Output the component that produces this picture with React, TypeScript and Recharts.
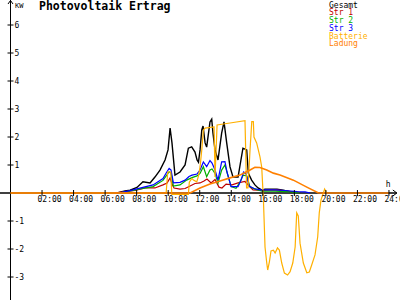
import React from 'react';
import { LineChart, Line, XAxis, YAxis, ReferenceLine, ReferenceDot, Legend } from 'recharts';

const FONT = '"DejaVu Sans Mono", "Liberation Mono", monospace';

const hourTicks = [2, 4, 6, 8, 10, 12, 14, 16, 18, 20, 22, 24];
const hourLabels = ['02:00', '04:00', '06:00', '08:00', '10:00', '12:00', '14:00', '16:00', '18:00', '20:00', '22:00', '24:00'];
const kwTicks = [-3, -2, -1, 1, 2, 3, 4, 5, 6];

const seriesNames = ['Gesamt', 'Str 1', 'Str 2', 'Str 3', 'Batterie', 'Ladung'];
const seriesColors = ['#000000', '#c00000', '#00b000', '#0000ff', '#ffb000', '#ff8000'];

const gesamt: [number, number][] = [
  [6.75, 0], [7.26, 0.07], [7.58, 0.1], [8.02, 0.2], [8.4, 0.4], [8.85, 0.36], [9.16, 0.57], [9.48, 0.82],
  [9.8, 1.18], [9.99, 1.54], [10.12, 2.32], [10.24, 1.79], [10.43, 0.64], [10.75, 0.75], [11.07, 1.0],
  [11.28, 1.6], [11.49, 1.65], [11.7, 1.46], [11.83, 1.18], [11.92, 1.1], [12.02, 1.54], [12.13, 2.25],
  [12.21, 2.39], [12.34, 1.79], [12.44, 1.64], [12.65, 2.54], [12.76, 2.64], [12.84, 2.14], [12.97, 1.54],
  [13.16, 1.18], [13.39, 2.14], [13.54, 2.54], [13.71, 1.79], [13.92, 0.93], [14.11, 0.57], [14.43, 0.57],
  [14.74, 1.6], [14.98, 1.54], [15.08, 0.71], [15.29, 0.46], [15.5, 0.29], [15.7, 0.18], [15.95, 0.1],
  [16.14, 0.14], [16.9, 0.14], [17.29, 0.1], [17.73, 0.05], [18.23, 0.02], [18.36, 0],
];

const str1: [number, number][] = [
  [6.63, 0], [7.26, 0.05], [7.9, 0.09], [8.53, 0.18], [9.16, 0.18], [9.67, 0.29], [9.93, 0.36], [10.12, 0.54],
  [10.24, 0.32], [10.37, 0.18], [10.75, 0.14], [11.07, 0.16], [11.39, 0.25], [11.7, 0.34], [12.02, 0.36],
  [12.27, 0.43], [12.46, 0.5], [12.72, 0.36], [12.97, 0.48], [13.22, 0.21], [13.41, 0.18], [13.67, 0.32],
  [14.05, 0.29], [14.43, 0.36], [14.87, 0.41], [15.13, 0.25], [15.38, 0.11], [16.01, 0.09], [16.9, 0.11],
  [17.73, 0.05], [18.23, 0.02], [18.36, 0],
];

const str2: [number, number][] = [
  [6.82, 0], [7.07, 0.02], [7.77, 0.09], [8.4, 0.16], [9.04, 0.23], [9.67, 0.45], [9.91, 0.64], [10.06, 0.76],
  [10.18, 0.71], [10.33, 0.25], [10.75, 0.29], [11.17, 0.46], [11.51, 0.55], [11.83, 0.61], [12.02, 0.7],
  [12.23, 0.94], [12.44, 0.58], [12.65, 0.82], [12.78, 0.86], [12.97, 0.7], [13.16, 0.35], [13.39, 0.82],
  [13.6, 1.0], [13.76, 0.68], [13.99, 0.23], [14.3, 0.17], [14.55, 0.39], [14.76, 0.64], [14.98, 0.61],
  [15.19, 0.22], [15.5, 0.14], [15.95, 0.07], [16.78, 0.07], [17.73, 0.04], [18.36, 0],
];

const str3: [number, number][] = [
  [6.82, 0], [7.07, 0.02], [7.77, 0.11], [8.4, 0.2], [9.04, 0.29], [9.67, 0.52], [9.91, 0.75], [10.06, 0.88],
  [10.18, 0.82], [10.33, 0.36], [10.75, 0.38], [11.07, 0.46], [11.32, 0.59], [11.51, 0.64], [11.83, 0.68],
  [12.02, 0.82], [12.23, 1.11], [12.44, 0.94], [12.65, 1.16], [12.78, 1.07], [12.97, 0.82], [13.16, 0.46],
  [13.39, 1.11], [13.6, 1.12], [13.73, 0.75], [13.99, 0.23], [14.43, 0.23], [14.62, 0.46], [14.78, 0.75],
  [14.94, 0.68], [15.13, 0.25], [15.44, 0.16], [15.82, 0.11], [16.78, 0.11], [17.41, 0.09], [18.17, 0.05],
  [18.68, 0.04], [19.0, 0],
];

const batterie: [number, number][] = [
  [0, 0], [9.87, 0], [9.97, 0.75], [10.16, 0.75], [10.23, -0.05], [11.28, -0.05], [11.34, 0.39], [11.5, 0.52],
  [11.6, 0.46], [11.81, 0.4], [11.92, 0.6], [12.02, 0.93], [12.13, 1.54], [12.23, 2.25], [12.34, 2.32],
  [12.91, 2.36], [12.97, 0.57], [13.1, 2.43], [13.92, 2.5], [14.87, 2.58], [14.97, 0.18], [15.06, 0.18],
  [15.19, 1.54], [15.3, 2.55], [15.4, 2.55], [15.44, 2.0], [15.61, 1.79], [15.82, 1.29], [15.93, 0.93],
  [16.04, -0.25], [16.14, -1.93], [16.25, -2.5], [16.31, -2.75], [16.42, -2.45], [16.52, -2.07], [16.67, -2.04],
  [16.78, -2.14], [16.93, -1.96], [17.05, -2.04], [17.2, -2.5], [17.37, -2.86], [17.57, -2.93], [17.73, -2.81],
  [17.9, -2.5], [18.05, -1.93], [18.15, -0.71], [18.25, -0.82], [18.36, -1.79], [18.57, -2.5], [18.79, -2.85],
  [18.95, -2.82], [19.1, -2.57], [19.31, -2.21], [19.48, -1.57], [19.58, -0.71], [19.69, -0.25], [19.84, 0],
  [19.92, 0.14], [20.05, 0],
];

const ladung: [number, number][] = [
  [0, 0], [11.39, 0], [12.02, 0.18], [12.65, 0.32], [13.29, 0.43], [13.92, 0.54], [14.55, 0.64], [14.93, 0.75],
  [15.19, 0.82], [15.5, 0.92], [15.82, 0.91], [16.25, 0.82], [16.67, 0.71], [17.09, 0.64], [17.94, 0.46],
  [18.79, 0.21], [19.5, 0.01], [19.7, 0], [24, 0],
];

const toRows = (pts: [number, number][]) => pts.map(([h, v]) => ({ h, v }));
const seriesData = [gesamt, str1, str2, str3, batterie, ladung].map(toRows);

const X_MAX = 24.7;
const Y_MIN = -3.821;
const Y_MAX = 6.893;

const LegendBox = () => (
  <div style={{ fontFamily: FONT, fontSize: 8, lineHeight: '7.8px', textAlign: 'left' }}>
    {seriesNames.map((n, i) => (
      <div key={n} style={{ color: seriesColors[i], height: 7.8, whiteSpace: 'pre' }}>{n}</div>
    ))}
  </div>
);

export default function App() {
  return (
    <div style={{ position: 'absolute', left: 0, top: 0, width: 400, height: 300, background: '#fff' }}>
      <LineChart width={400} height={300} margin={{ top: 0, right: 0, bottom: 0, left: 10.5 }}>
        <XAxis type="number" dataKey="h" domain={[0, X_MAX]} hide height={0} allowDuplicatedCategory={false} />
        <YAxis type="number" domain={[Y_MIN, Y_MAX]} hide width={0} />
        <ReferenceLine x={0} stroke="#000" strokeWidth={1} />
        <ReferenceLine
          segment={[{ x: -0.67, y: 0 }, { x: 24.5, y: 0 }]}
          stroke="#000"
          strokeWidth={1.5}
          ifOverflow="visible"
        />
        {seriesData.map((d, i) => (
          <Line
            key={seriesNames[i]}
            data={d}
            dataKey="v"
            name={seriesNames[i]}
            type="linear"
            stroke={seriesColors[i]}
            strokeWidth={i === 5 ? 1.6 : i === 0 ? 1.4 : 1.2}
            dot={false}
            activeDot={false}
            isAnimationActive={false}
          />
        ))}
        {kwTicks.map((k) => (
          <ReferenceDot
            key={'y' + k}
            x={0}
            y={k}
            ifOverflow="visible"
            shape={(p: any) => (
              <g>
                <line x1={p.cx - 3} x2={p.cx + 3} y1={p.cy} y2={p.cy} stroke="#000" strokeWidth={1} />
                <text x={p.cx + 4} y={p.cy + 3.2} fontSize={8} fontFamily={FONT} fill="#000">{String(k)}</text>
              </g>
            )}
          />
        ))}
        {hourTicks.map((h, i) => (
          <ReferenceDot
            key={'x' + h}
            x={h}
            y={0}
            ifOverflow="visible"
            shape={(p: any) => (
              <g>
                <line x1={p.cx} x2={p.cx} y1={p.cy - 3} y2={p.cy + 3} stroke="#000" strokeWidth={1} />
                <text x={p.cx - 4.5} y={p.cy + 9} fontSize={8} fontFamily={FONT} fill="#000">{hourLabels[i]}</text>
              </g>
            )}
          />
        ))}
        <ReferenceDot
          x={0}
          y={Y_MAX}
          ifOverflow="visible"
          shape={(p: any) => (
            <g>
              <polyline points={`${p.cx - 2.5},${p.cy + 4} ${p.cx},${p.cy + 0.5} ${p.cx + 2.5},${p.cy + 4}`} fill="none" stroke="#000" strokeWidth={1} />
              <text x={p.cx + 4.5} y={p.cy + 7.5} fontSize={7} fontFamily={FONT} fill="#000">KW</text>
            </g>
          )}
        />
        <ReferenceDot
          x={24.5}
          y={0}
          ifOverflow="visible"
          shape={(p: any) => (
            <g>
              <polyline points={`${p.cx - 4},${p.cy - 3} ${p.cx},${p.cy} ${p.cx - 4},${p.cy + 3}`} fill="none" stroke="#000" strokeWidth={1} />
              <text x={p.cx - 11} y={p.cy - 6} fontSize={8} fontFamily={FONT} fill="#000">h</text>
            </g>
          )}
        />
        <Legend
          layout="vertical"
          align="center"
          verticalAlign="middle"
          content={<LegendBox />}
          wrapperStyle={{ position: 'absolute', top: 1.5, left: 329, width: 70 }}
        />
      </LineChart>
      <div
        style={{
          position: 'absolute',
          left: 39,
          top: 0,
          fontFamily: FONT,
          fontWeight: 'bold',
          fontSize: 11.5,
          lineHeight: '13px',
          whiteSpace: 'pre',
          color: '#000',
        }}
      >
        Photovoltaik Ertrag
      </div>
    </div>
  );
}
